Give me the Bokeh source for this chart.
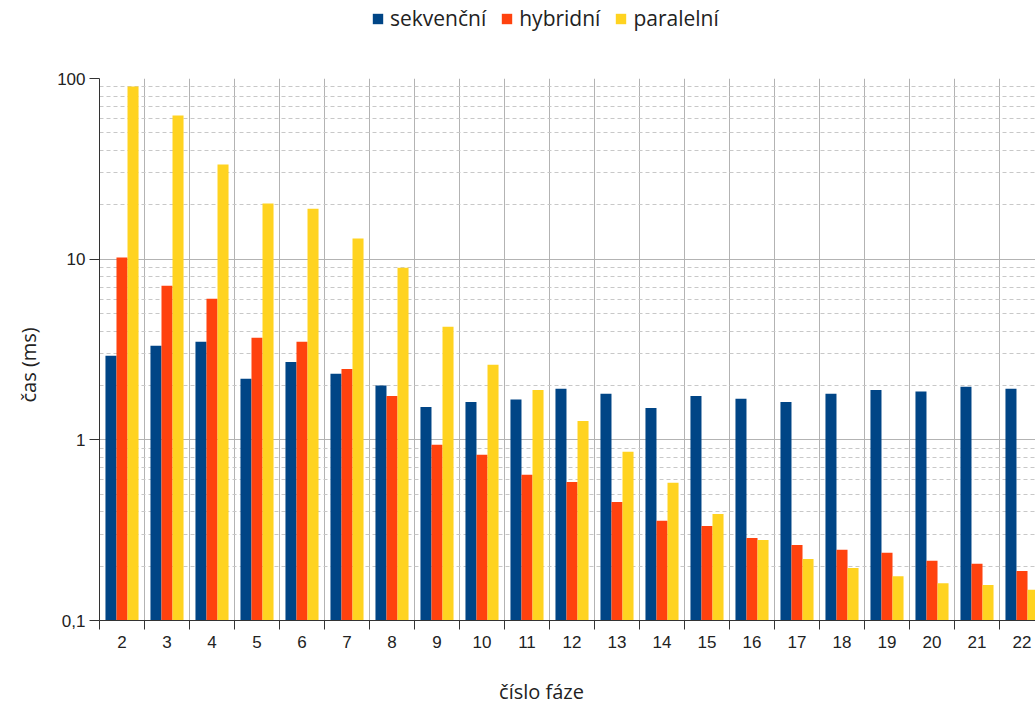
from bokeh.plotting import figure
from bokeh.layouts import column
from bokeh.models import ColumnDataSource, FixedTicker, Legend, LegendItem, Label, Range1d, Title
from bokeh.transform import dodge
from bokeh.embed import file_html
from bokeh.resources import INLINE

# ---- data ----
phases = list(range(2, 23))
sekvencni = [2.92, 3.32, 3.49, 2.18, 2.70, 2.32, 2.00, 1.52, 1.62, 1.67, 1.92,
             1.80, 1.50, 1.75, 1.69, 1.62, 1.80, 1.89, 1.85, 1.97, 1.92]
hybridni = [10.2, 7.13, 6.04, 3.67, 3.49, 2.47, 1.75, 0.94, 0.826, 0.64, 0.585,
            0.453, 0.356, 0.334, 0.286, 0.262, 0.246, 0.237, 0.214, 0.206, 0.188]
paralelni = [90.3, 62.4, 33.4, 20.3, 19.0, 13.0, 8.97, 4.23, 2.60, 1.89, 1.27,
             0.858, 0.578, 0.389, 0.279, 0.219, 0.195, 0.176, 0.161, 0.157, 0.148]
series_names = ["sekvenční", "hybridní", "paralelní"]
y_ticks = [0.1, 1, 10, 100]
y_tick_labels = ["0,1", "1", "10", "100"]
x_title = "číslo fáze"
y_title = "čas (ms)"

colors = ["#004586", "#ff420e", "#ffd320"]
TXT = "#222222"

src = ColumnDataSource(dict(x=phases, s=sekvencni, h=hybridni, p=paralelni))

# ---- main chart ----
p = figure(width=1035, height=624, y_axis_type="log",
           x_range=Range1d(1.5, 22.3), y_range=Range1d(0.1, 100),
           output_backend="svg", toolbar_location=None,
           min_border_left=99, min_border_right=0, min_border_top=38,
           min_border_bottom=44)
p.outline_line_color = None

w = 0.245
for col, off, c in zip(["s", "h", "p"], [-w, 0, w], colors):
    p.vbar(x=dodge("x", off, range=p.x_range), top=col, bottom=0.1, width=w,
           source=src, fill_color=c, line_color=None)

boundaries = [ph - 0.5 for ph in phases] + [phases[-1] + 0.5]
p.xaxis.ticker = FixedTicker(ticks=phases, minor_ticks=boundaries)
p.xgrid.ticker = FixedTicker(ticks=boundaries)
p.xaxis.major_tick_line_color = None
p.xaxis.major_tick_out = 9
p.xaxis.major_tick_in = 0
p.xaxis.minor_tick_line_color = "#333333"
p.xaxis.minor_tick_out = 9
p.xaxis.minor_tick_in = 0
p.xaxis.axis_line_color = "#333333"
p.xaxis.major_label_standoff = 6
p.xaxis.major_label_text_font = "Liberation Sans"
p.xaxis.major_label_text_font_size = "17px"
p.xaxis.major_label_text_color = TXT
p.xgrid.grid_line_color = "#b3b3b3"

minor_y = [m * e for e in (0.1, 1, 10) for m in range(2, 10)]
yt = FixedTicker(ticks=y_ticks, minor_ticks=minor_y)
p.yaxis.ticker = yt
p.ygrid.ticker = yt
p.yaxis.major_label_overrides = {t: l for t, l in zip(y_ticks, y_tick_labels)}
p.yaxis.axis_line_color = "#333333"
p.yaxis.major_tick_line_color = "#333333"
p.yaxis.major_tick_out = 10
p.yaxis.major_tick_in = 0
p.yaxis.minor_tick_line_color = None
p.yaxis.major_label_standoff = 4
p.yaxis.major_label_text_font = "Liberation Sans"
p.yaxis.major_label_text_font_size = "17px"
p.yaxis.major_label_text_color = TXT
p.ygrid.grid_line_color = "#b3b3b3"
p.ygrid.minor_grid_line_color = "#c8c8c8"
p.ygrid.minor_grid_line_dash = "4 3"

p.add_layout(Title(text=y_title, align="left", offset=218, text_font="Open Sans",
                   text_font_size="20px", text_font_style="normal",
                   text_color=TXT, standoff=25), "left")

# ---- legend strip (frame aligned with main frame) ----
lg = figure(width=1035, height=40, x_range=Range1d(0, 1), y_range=Range1d(0, 1),
            x_axis_type=None, y_axis_type=None, output_backend="svg",
            toolbar_location=None, min_border=0, title=None)
lg.outline_line_color = None
dummies = [lg.vbar(x=[-10], top=[-5], bottom=[-6], width=0.1, fill_color=c, line_color=None)
           for c in colors]
legend = Legend(items=[LegendItem(label=n, renderers=[r]) for n, r in zip(series_names, dummies)],
                orientation="horizontal", location=(272, 8), padding=0, margin=0,
                spacing=14, glyph_width=13, glyph_height=13, label_standoff=6,
                label_text_font="Open Sans", label_text_font_size="21px",
                label_text_color=TXT, border_line_color=None, background_fill_alpha=0)
lg.add_layout(legend, "center")

# ---- x title strip ----
xt = figure(width=1035, height=40, x_range=Range1d(0, 936), y_range=Range1d(0, 40),
            x_axis_type=None, y_axis_type=None, output_backend="svg",
            toolbar_location=None, min_border=0, title=None)
xt.outline_line_color = None
xt.add_layout(Label(x=442, y=13, text=x_title, text_align="center", text_baseline="alphabetic",
                    text_font="Open Sans", text_font_size="20px", text_color=TXT))

layout = column(lg, p, xt)
open("out.html", "w").write(file_html(layout, INLINE))
